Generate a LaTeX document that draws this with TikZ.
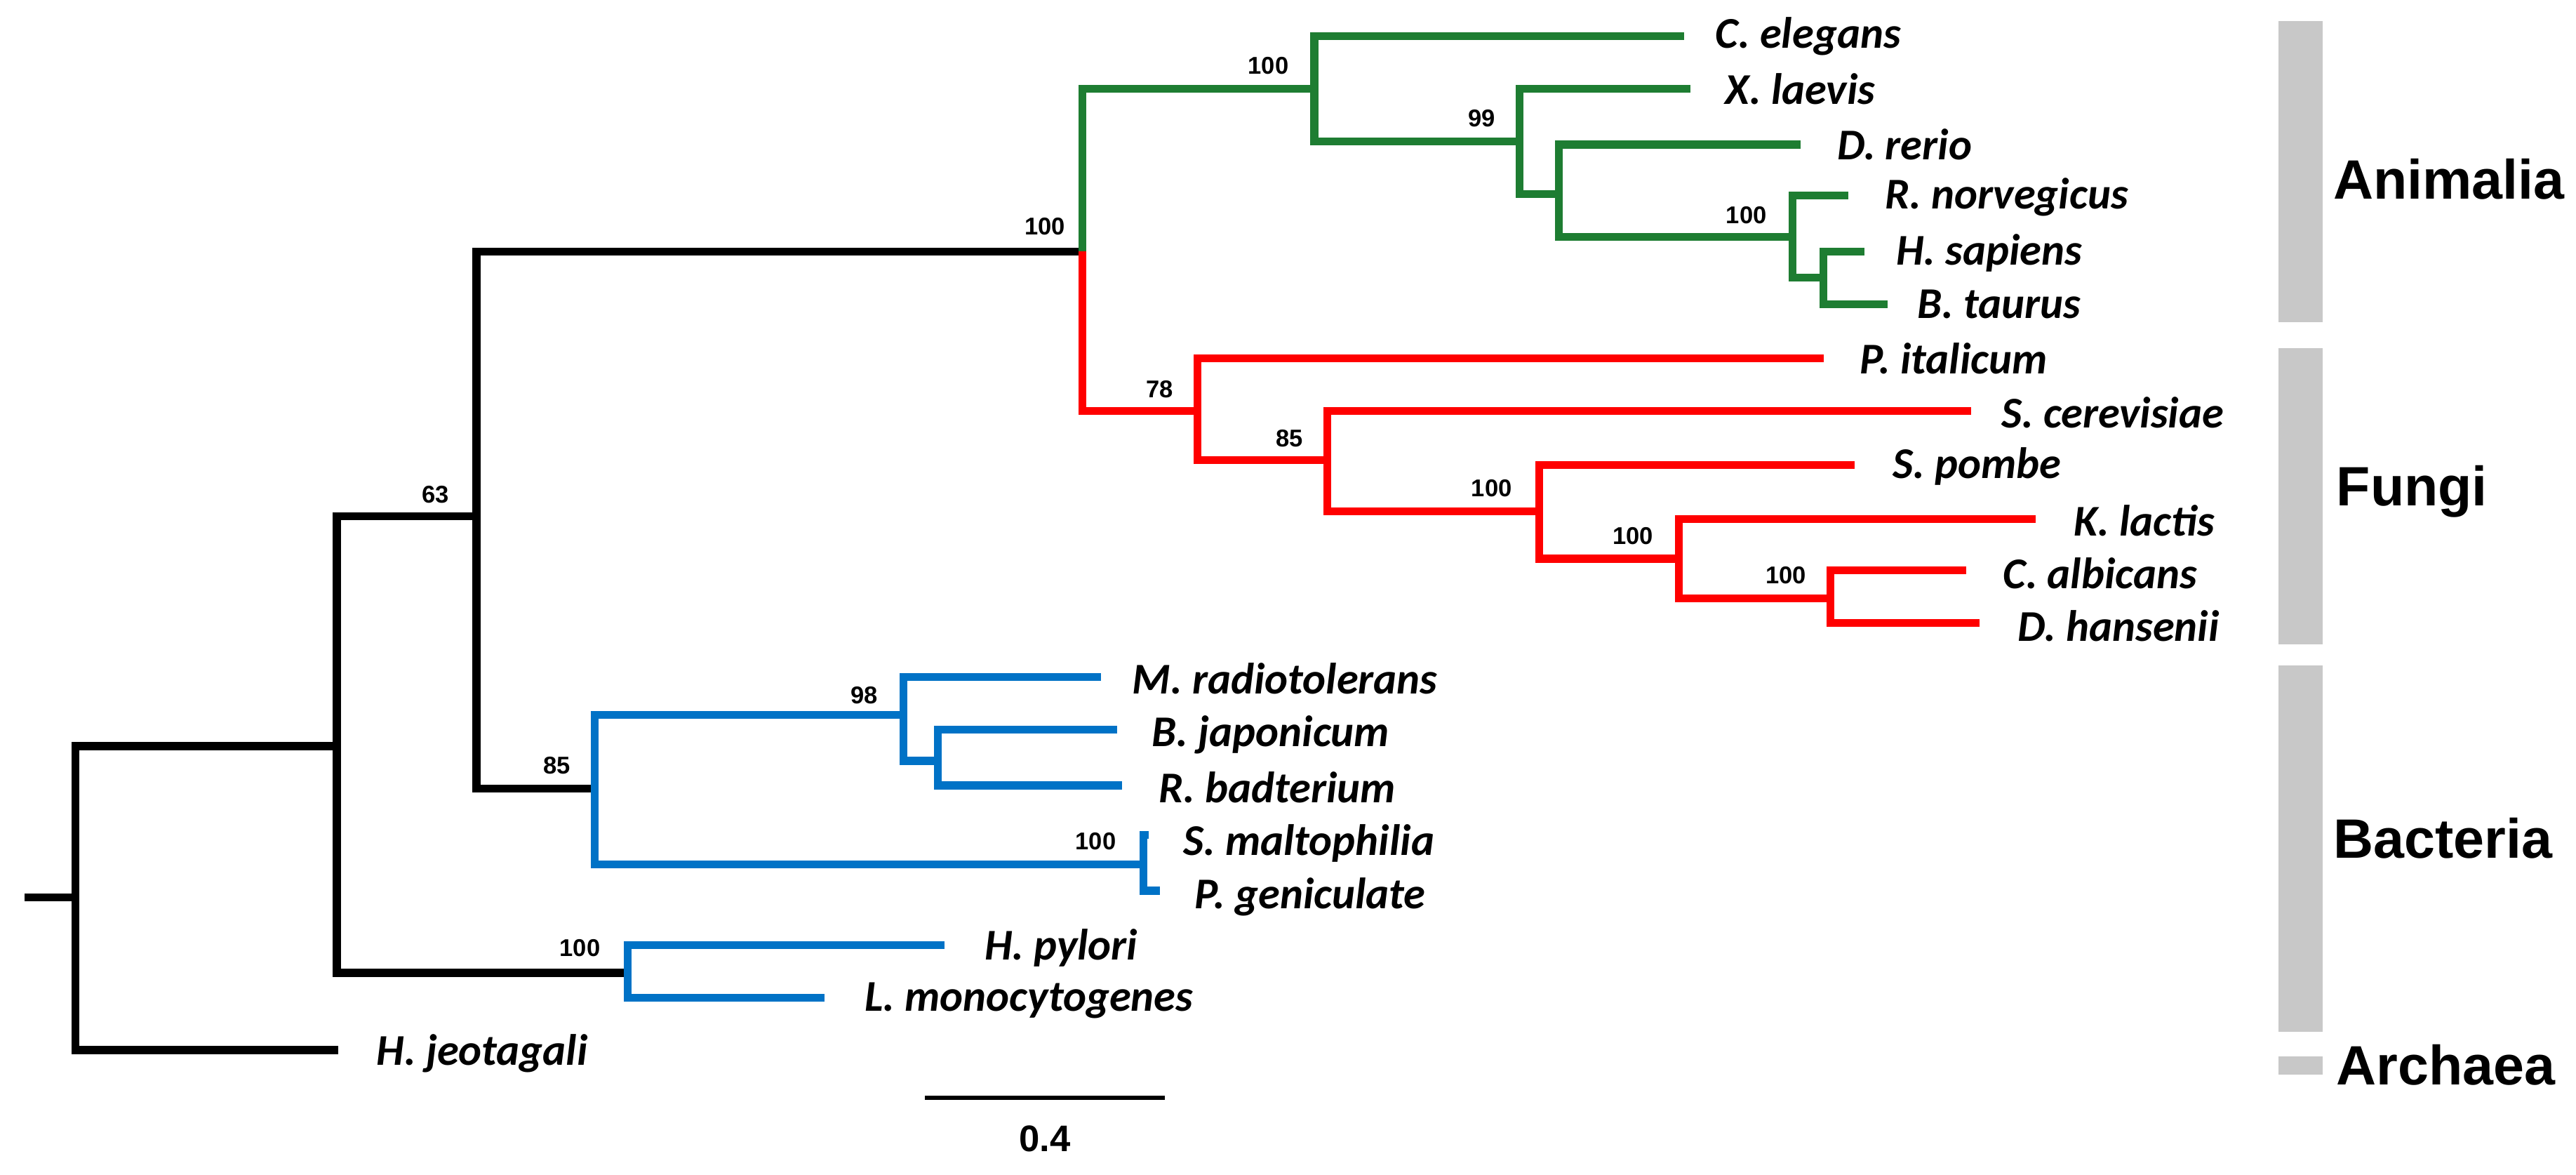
\documentclass[tikz,border=0pt]{standalone}
\usepackage{fontspec}
\setmainfont{Liberation Sans}
\newfontfamily\spfont{Carlito}
\definecolor{tgreen}{RGB}{30,125,50}
\definecolor{tred}{RGB}{255,0,0}
\definecolor{tblue}{RGB}{0,114,198}
\definecolor{tgray}{RGB}{200,200,200}
\begin{document}
\begin{tikzpicture}[x=0.025cm,y=-0.025cm,
  br/.style={line width=3.4pt,line cap=butt},
  sp/.style={anchor=west,font=\spfont\bfseries\itshape\fontsize{19}{19}\selectfont,inner sep=0pt},
  bs/.style={font=\bfseries\fontsize{10.5}{10.5}\selectfont,inner sep=0pt},
  grp/.style={anchor=west,font=\bfseries\fontsize{24}{24}\selectfont,inner sep=0pt},
  bar/.style={fill=tgray,draw=none}]
\useasboundingbox (0,0) rectangle (1568,715);
% coordinates
\coordinate (stub) at (15,546);
\coordinate (R) at (46,546);
\coordinate (A) at (205,454);
\coordinate (J) at (206,639);
\coordinate (B) at (290,314);
\coordinate (AF) at (659,153);
\coordinate (G1) at (800,54);
\coordinate (G2) at (925,86);
\coordinate (G3) at (949,118);
\coordinate (G4) at (1091,144);
\coordinate (G5) at (1110,169);
\coordinate (Ce) at (1025,22);
\coordinate (Xl) at (1029,54);
\coordinate (Dr) at (1096,88);
\coordinate (Rn) at (1125,119);
\coordinate (Hs) at (1135,153);
\coordinate (Bt) at (1149,185);
\coordinate (F1) at (729,250);
\coordinate (F2) at (808,280);
\coordinate (F3) at (937,311);
\coordinate (F4) at (1022,340);
\coordinate (F5) at (1114,364);
\coordinate (Pi) at (1110,218);
\coordinate (Sc) at (1200,250);
\coordinate (Sp) at (1129,283);
\coordinate (Kl) at (1239,316);
\coordinate (Ca) at (1197,347);
\coordinate (Dh) at (1205,379);
\coordinate (C) at (362,480);
\coordinate (D) at (550,435);
\coordinate (E) at (571,463);
\coordinate (SM) at (696,526);
\coordinate (Mr) at (670,412);
\coordinate (Bj) at (680,444);
\coordinate (Rb) at (683,478);
\coordinate (Sm) at (699,508);
\coordinate (Pg) at (706,542);
\coordinate (H) at (382,592);
\coordinate (Hp) at (575,575);
\coordinate (Lm) at (502,607);
% black edges
\draw[br] (stub) -- (R);
\draw[br] (R) |- (A); \draw[br] (R) |- (J);
\draw[br] (A) |- (B); \draw[br] (A) |- (H);
\draw[br] (B) |- (AF); \draw[br] (B) |- (C);
% green
\draw[br,tgreen] (AF) |- (G1);
\draw[br,tgreen] (G1) |- (Ce); \draw[br,tgreen] (G1) |- (G2);
\draw[br,tgreen] (G2) |- (Xl); \draw[br,tgreen] (G2) |- (G3);
\draw[br,tgreen] (G3) |- (Dr); \draw[br,tgreen] (G3) |- (G4);
\draw[br,tgreen] (G4) |- (Rn); \draw[br,tgreen] (G4) |- (G5);
\draw[br,tgreen] (G5) |- (Hs); \draw[br,tgreen] (G5) |- (Bt);
% red
\draw[br,tred] (AF) |- (F1);
\draw[br,tred] (F1) |- (Pi); \draw[br,tred] (F1) |- (F2);
\draw[br,tred] (F2) |- (Sc); \draw[br,tred] (F2) |- (F3);
\draw[br,tred] (F3) |- (Sp); \draw[br,tred] (F3) |- (F4);
\draw[br,tred] (F4) |- (Kl); \draw[br,tred] (F4) |- (F5);
\draw[br,tred] (F5) |- (Ca); \draw[br,tred] (F5) |- (Dh);
% blue
\draw[br,tblue] (C) |- (D); \draw[br,tblue] (C) |- (SM);
\draw[br,tblue] (D) |- (Mr); \draw[br,tblue] (D) |- (E);
\draw[br,tblue] (E) |- (Bj); \draw[br,tblue] (E) |- (Rb);
\draw[br,tblue] (SM) |- (Sm); \draw[br,tblue] (SM) |- (Pg);
\draw[br,tblue] (H) |- (Hp); \draw[br,tblue] (H) |- (Lm);
% species labels
\node[sp] (lCe) at (1044,22) {C. elegans};
\node[sp] (lXl) at (1050,54) {X. laevis};
\node[sp] (lDr) at (1118,88) {D. rerio};
\node[sp] (lRn) at (1147,120) {R. norvegicus};
\node[sp] (lHs) at (1154,154) {H. sapiens};
\node[sp] (lBt) at (1167,185) {B. taurus};
\node[sp] (lPi) at (1132,218) {P. italicum};
\node[sp] (lSc) at (1218,251) {S. cerevisiae};
\node[sp] (lSp) at (1152,284) {S. pombe};
\node[sp] (lKl) at (1262,317) {K. lactis};
\node[sp] (lCa) at (1219,349) {C. albicans};
\node[sp] (lDh) at (1228,381) {D. hansenii};
\node[sp] (lMr) at (689,413) {M. radiotolerans};
\node[sp] (lBj) at (701,447) {B. japonicum};
\node[sp] (lRb) at (705,479) {R. badterium};
\node[sp] (lSm) at (720,513) {S. maltophilia};
\node[sp] (lPg) at (727,546) {P. geniculate};
\node[sp] (lHp) at (599,577) {H. pylori};
\node[sp] (lLm) at (526,609) {L. monocytogenes};
\node[sp] (lJ) at (229,641) {H. jeotagali};
% bootstrap values
\node[bs] (b1) at (772,40) {100};
\node[bs] (b2) at (902,72) {99};
\node[bs] (b3) at (1063,131) {100};
\node[bs] (b4) at (636,138) {100};
\node[bs] (b5) at (706,237) {78};
\node[bs] (b6) at (785,267) {85};
\node[bs] (b7) at (908,297) {100};
\node[bs] (b8) at (994,326) {100};
\node[bs] (b9) at (1087,350) {100};
\node[bs] (b10) at (265,301) {63};
\node[bs] (b11) at (526,423) {98};
\node[bs] (b12) at (339,466) {85};
\node[bs] (b13) at (667,512) {100};
\node[bs] (b14) at (353,577) {100};
% scale bar
\coordinate (s1) at (563,668);
\coordinate (s2) at (709,668);
\draw[line width=1.6pt] (s1) -- (s2);
\node[font=\bfseries\fontsize{16}{16}\selectfont,inner sep=0pt] (sl) at (636,693) {0.4};
% group bars
\fill[bar] (1387,13) rectangle (1414,196);
\fill[bar] (1387,212) rectangle (1414,392);
\fill[bar] (1387,405) rectangle (1414,628);
\fill[bar] (1387,643) rectangle (1414,654);
\node[grp] (gA) at (1420,109) {Animalia};
\node[grp] (gF) at (1422,299) {Fungi};
\node[grp] (gB) at (1420,510) {Bacteria};
\node[grp] (gR) at (1422,648) {Archaea};
\end{tikzpicture}
\end{document}
